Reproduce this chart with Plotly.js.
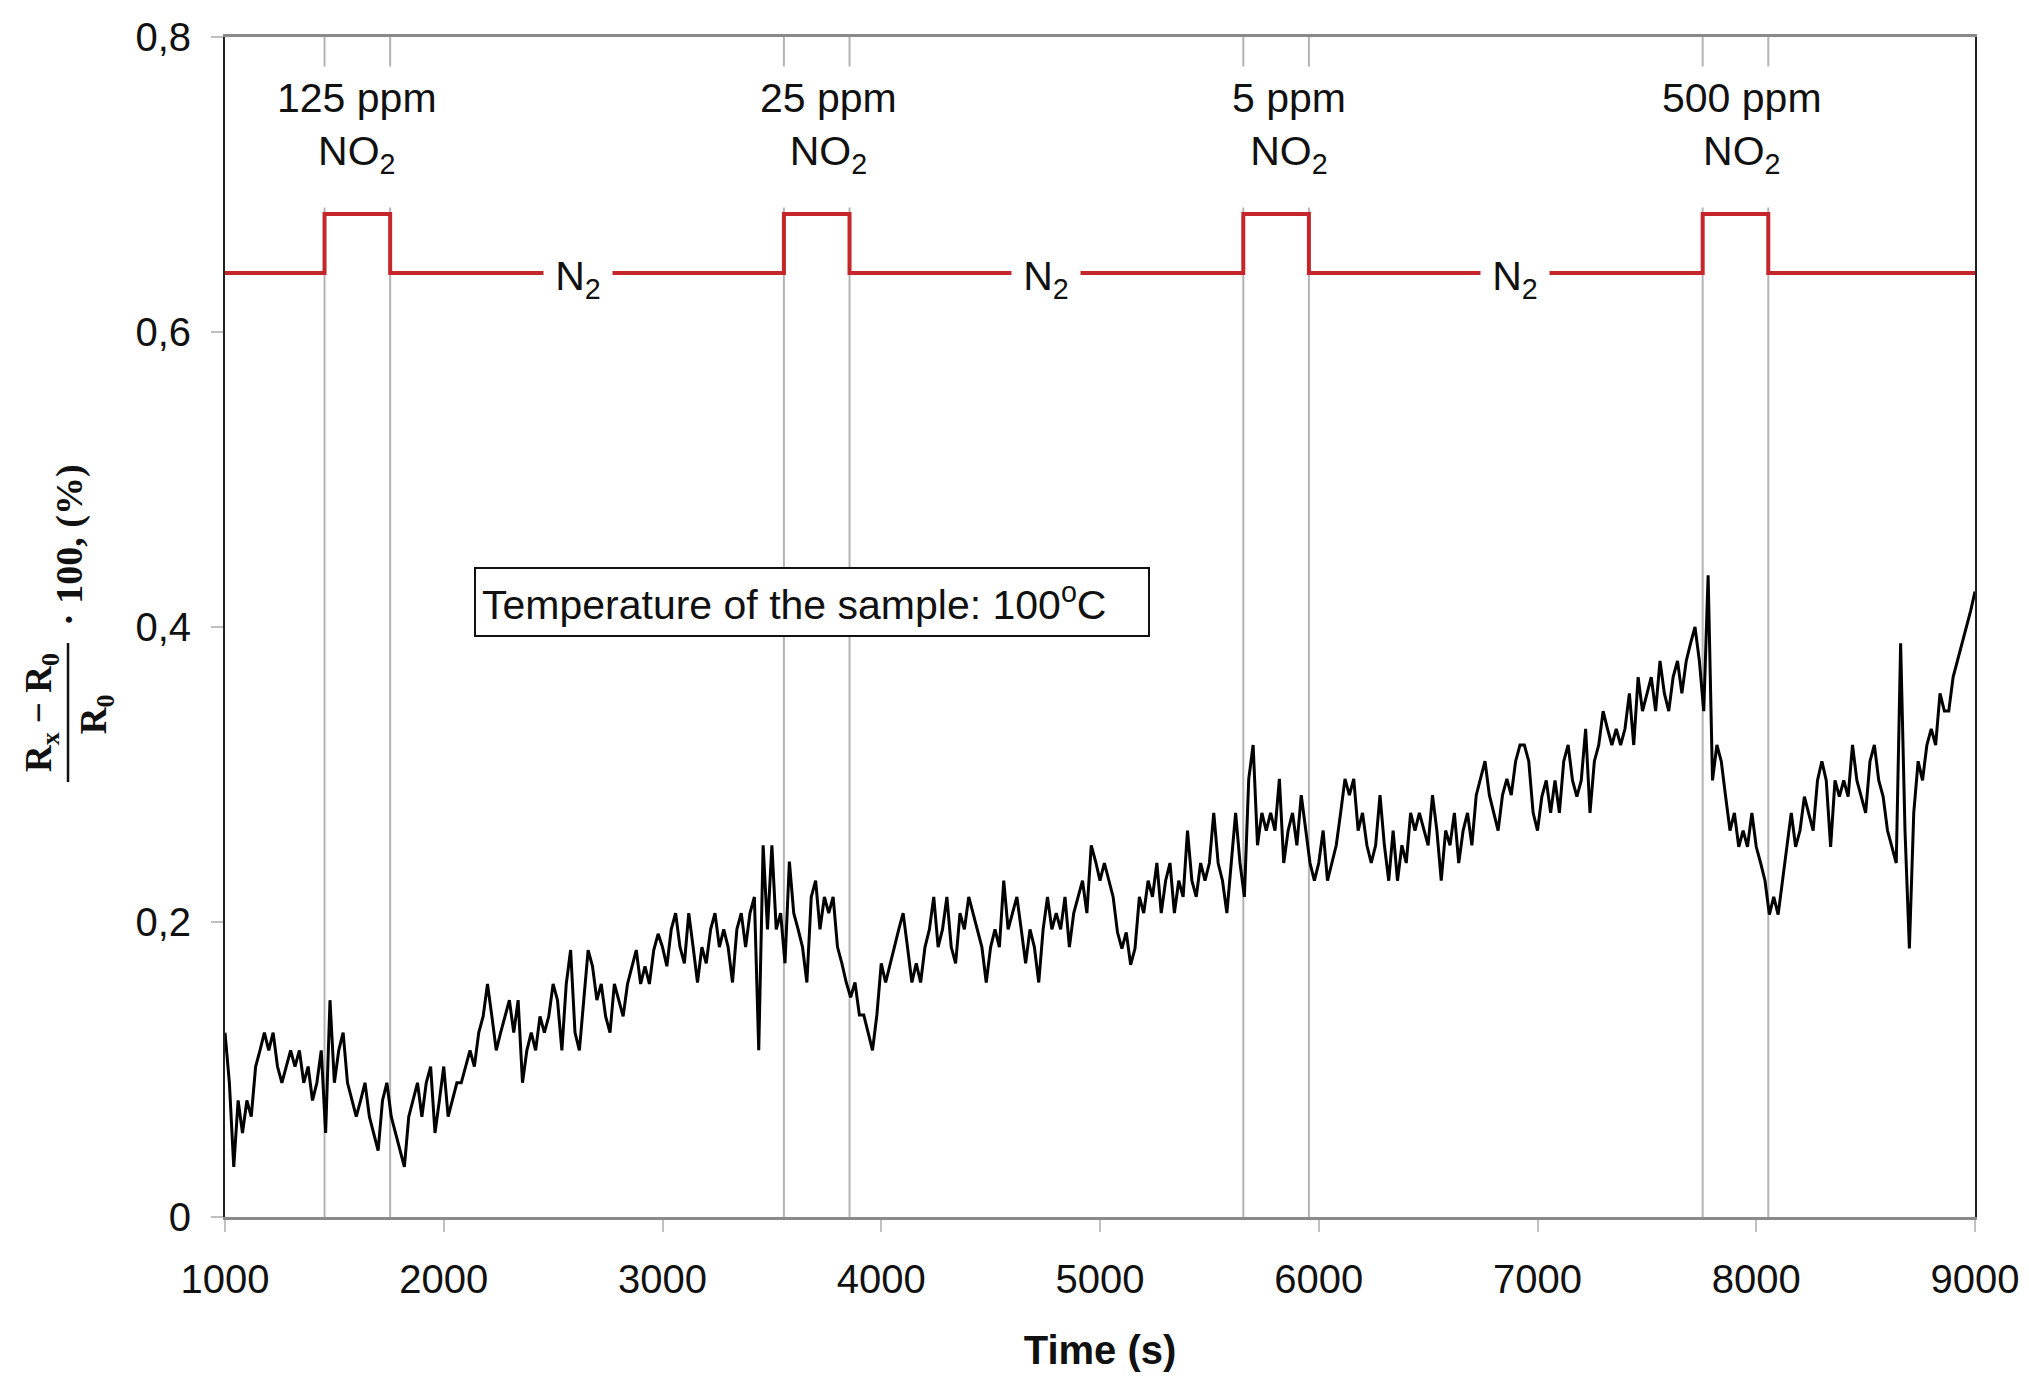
<!DOCTYPE html>
<html>
<head>
<meta charset="utf-8">
<script src="https://cdn.plot.ly/plotly-3.0.1.min.js"></script>
<style>html,body{margin:0;padding:0;background:#fff;}#chart{width:2029px;height:1396px;}</style>
</head>
<body>
<div id="chart"></div>
<script>
// Sensor response, sampled every 20 s from 1000 s to 9000 s
const timeStart = 1000;
const timeStep = 20;
const response = [
.125,.091,.034,.079,.057,.079,.068,.102,.113,.125,
.113,.125,.102,.091,.102,.113,.102,.113,.091,.102,
.079,.091,.113,.057,.147,.091,.113,.125,.091,.079,
.068,.079,.091,.068,.057,.045,.079,.091,.068,.057,
.045,.034,.068,.079,.091,.068,.091,.102,.057,.079,
.102,.068,.079,.091,.091,.102,.113,.102,.125,.136,
.158,.136,.113,.125,.136,.147,.125,.147,.091,.113,
.125,.113,.136,.125,.136,.158,.147,.113,.158,.181,
.125,.113,.147,.181,.170,.147,.158,.136,.125,.158,
.147,.136,.158,.170,.181,.158,.170,.158,.181,.192,
.183,.170,.195,.206,.183,.172,.206,.183,.159,.183,
.172,.195,.206,.183,.195,.183,.159,.195,.206,.183,
.206,.217,.113,.252,.195,.252,.195,.206,.172,.241,
.206,.195,.183,.159,.217,.228,.195,.217,.206,.217,
.183,.172,.159,.149,.159,.137,.137,.125,.113,.137,
.172,.159,.172,.183,.195,.206,.183,.159,.172,.159,
.183,.195,.217,.183,.195,.217,.183,.172,.206,.195,
.217,.206,.195,.183,.159,.183,.195,.183,.228,.195,
.206,.217,.195,.172,.195,.183,.159,.195,.217,.195,
.206,.195,.217,.183,.206,.217,.228,.206,.252,.241,
.228,.240,.228,.217,.193,.182,.193,.171,.182,.217,
.206,.228,.217,.240,.206,.228,.240,.206,.228,.217,
.262,.228,.217,.240,.228,.240,.274,.240,.228,.206,
.240,.274,.240,.217,.297,.320,.252,.274,.262,.274,
.262,.297,.240,.262,.274,.252,.286,.262,.240,.228,
.240,.262,.228,.240,.252,.274,.297,.286,.297,.262,
.274,.252,.240,.252,.286,.252,.228,.262,.228,.252,
.240,.274,.262,.274,.262,.252,.286,.262,.228,.262,
.252,.274,.240,.262,.274,.252,.286,.297,.309,.286,
.274,.262,.286,.297,.286,.309,.320,.320,.309,.274,
.262,.285,.296,.274,.296,.274,.309,.320,.296,.285,
.296,.331,.274,.309,.320,.343,.331,.320,.331,.320,
.331,.355,.320,.366,.343,.355,.366,.343,.377,.355,
.343,.366,.377,.355,.377,.389,.400,.377,.343,.435,
.296,.320,.309,.285,.262,.274,.251,.262,.251,.274,
.251,.240,.228,.205,.217,.205,.228,.251,.274,.251,
.262,.285,.274,.262,.296,.309,.296,.251,.296,.285,
.296,.285,.320,.296,.285,.274,.309,.320,.296,.285,
.262,.251,.240,.389,.262,.182,.274,.309,.296,.320,
.331,.320,.355,.343,.343,.366,.377,.389,.400,.411,.424
];

// Gas schedule (switching times, s) and schematic level
const gasTimes  = [1000, 1455, 1755, 3555, 3855, 5655, 5955, 7755, 8055, 9000];
const gasLevels = [0.64, 0.68, 0.64, 0.68, 0.64, 0.68, 0.64, 0.68, 0.64, 0.64];

// Pulse labels
const pulseLabels = ['125 ppm', '25 ppm', '5 ppm', '500 ppm'];
const pulseLabelX = [1603, 3761, 5866, 7936];
const n2LabelX = [2614, 4754, 6895];

const xTicks = [1000, 2000, 3000, 4000, 5000, 6000, 7000, 8000, 9000];
const yTicks = [0, 0.2, 0.4, 0.6, 0.8];
const yTickText = ['0', '0,2', '0,4', '0,6', '0,8'];

const SANS = 'Liberation Sans, Arial, Helvetica, sans-serif';
const SERIF = 'Liberation Serif, Times New Roman, serif';

const traces = [
  {
    type: 'scatter', mode: 'lines',
    x0: timeStart, dx: timeStep, y: response,
    line: {color: '#000000', width: 3},
    hoverinfo: 'skip', showlegend: false
  },
  {
    type: 'scatter', mode: 'lines',
    x: gasTimes, y: gasLevels,
    line: {color: '#c4262b', width: 4, shape: 'hv'},
    hoverinfo: 'skip', showlegend: false
  }
];

const shapes = [];
gasTimes.slice(1, -1).forEach(t => {
  shapes.push({type: 'line', xref: 'x', yref: 'y', x0: t, x1: t, y0: 0, y1: 0.8,
    line: {color: '#b4b4b4', width: 2}, layer: 'below'});
});
// fraction bar of the y-axis title
shapes.push({type: 'line', xref: 'paper', yref: 'paper', x0: -0.0897, x1: -0.0897, y0: 0.3686, y1: 0.4864,
  line: {color: '#111', width: 2.5}});

const annotations = [];
pulseLabels.forEach((lab, i) => {
  annotations.push({x: pulseLabelX[i], y: 0.732, xref: 'x', yref: 'y',
    text: lab + '<br>NO<sub>2</sub>', showarrow: false, align: 'center', valign: 'top',
    font: {family: SANS, size: 41, color: '#111'}, bgcolor: '#ffffff', borderpad: 8, height: 124,
    xanchor: 'center', yanchor: 'middle'});
});
n2LabelX.forEach(t => {
  annotations.push({x: t, y: 0.64, xref: 'x', yref: 'y', text: 'N<sub>2</sub>', showarrow: false,
    font: {family: SANS, size: 41, color: '#111'}, bgcolor: '#ffffff', width: 66, height: 46,
    xanchor: 'center', yanchor: 'middle', yshift: -6});
});
annotations.push({x: 3685, y: 0.4167, xref: 'x', yref: 'y',
  text: 'Temperature of the sample: 100<sup>o</sup>C', showarrow: false, align: 'left',
  font: {family: SANS, size: 41, color: '#111'}, bgcolor: '#ffffff',
  bordercolor: '#111', borderwidth: 2, borderpad: 6, width: 660, height: 54,
  xanchor: 'center', yanchor: 'middle'});
// y-axis title built as a fraction
annotations.push({x: -0.1051, y: 0.4271, xref: 'paper', yref: 'paper', textangle: -90,
  text: '<b>R<sub>x</sub> − R<sub>0</sub></b>', showarrow: false,
  font: {family: SERIF, size: 37, color: '#111'}, xanchor: 'center', yanchor: 'middle'});
annotations.push({x: -0.0730, y: 0.4263, xref: 'paper', yref: 'paper', textangle: -90,
  text: '<b>R<sub>0</sub></b>', showarrow: false,
  font: {family: SERIF, size: 37, color: '#111'}, xanchor: 'center', yanchor: 'middle'});
annotations.push({x: -0.0886, y: 0.5695, xref: 'paper', yref: 'paper', textangle: -90,
  text: '<b>· 100, (%)</b>', showarrow: false,
  font: {family: SERIF, size: 38, color: '#111'}, xanchor: 'center', yanchor: 'middle'});

const layout = {
  width: 2029, height: 1396,
  margin: {l: 225, r: 54, t: 37, b: 179},
  paper_bgcolor: '#ffffff', plot_bgcolor: '#ffffff',
  showlegend: false,
  xaxis: {
    range: [1000, 9000], tickvals: xTicks, ticks: 'outside', ticklen: 12, tickwidth: 2, tickcolor: '#c0c0c0',
    showline: true, linecolor: '#8a8a8a', linewidth: 3, mirror: true, showgrid: false, zeroline: false,
    ticklabelstandoff: 13,
    tickfont: {family: SANS, size: 40, color: '#111'},
    title: {text: '<b>Time (s)</b>', font: {family: SANS, size: 40, color: '#111'}, standoff: 36}
  },
  yaxis: {
    range: [0, 0.8], tickvals: yTicks, ticktext: yTickText, ticks: 'outside', ticklen: 12, tickwidth: 2, tickcolor: '#c0c0c0',
    showline: true, linecolor: '#222', linewidth: 2, mirror: true, showgrid: false, zeroline: false,
    ticklabelstandoff: 12,
    tickfont: {family: SANS, size: 40, color: '#111'},
    title: {text: ''}
  },
  shapes: shapes,
  annotations: annotations
};

Plotly.newPlot('chart', traces, layout, {staticPlot: true, displayModeBar: false});
</script>
</body>
</html>
